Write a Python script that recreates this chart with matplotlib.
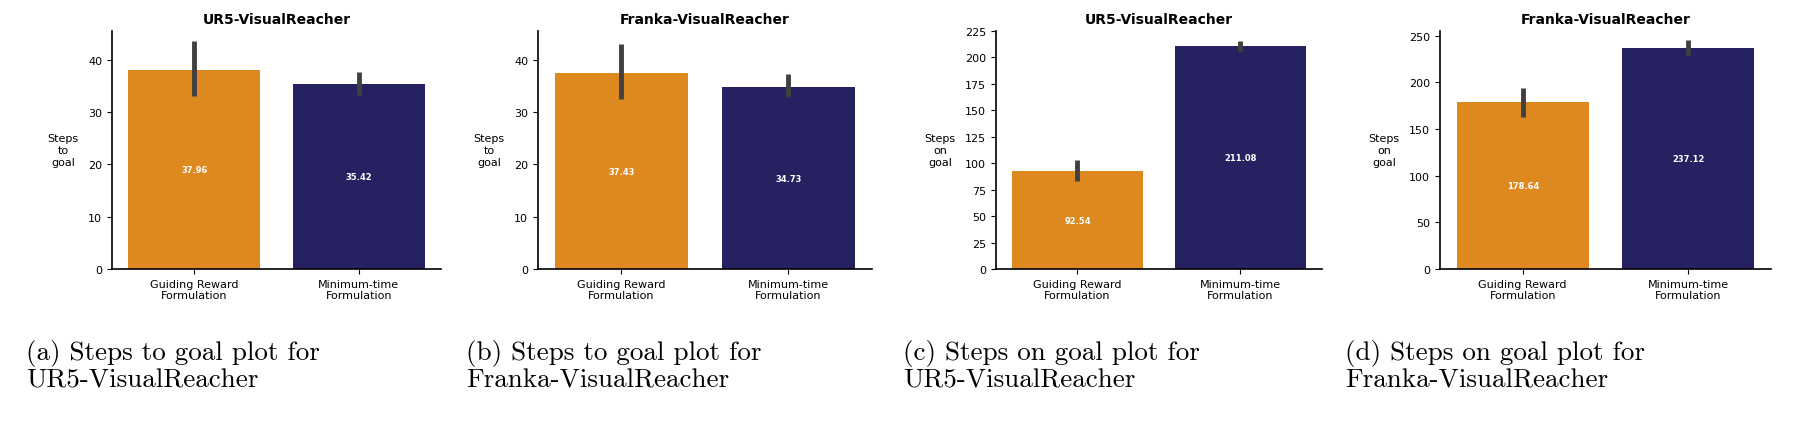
import matplotlib
matplotlib.use("Agg")
import matplotlib.pyplot as plt

categories = ["Guiding Reward\nFormulation", "Minimum-time\nFormulation"]
titles = ["UR5-VisualReacher", "Franka-VisualReacher", "UR5-VisualReacher", "Franka-VisualReacher"]
ylabels = ["Steps\nto\ngoal", "Steps\nto\ngoal", "Steps\non\ngoal", "Steps\non\ngoal"]
means_a = [37.96, 35.42]
means_b = [37.43, 34.73]
means_c = [92.54, 211.08]
means_d = [178.64, 237.12]
err_lo_a = [33.0, 33.3]; err_hi_a = [43.5, 37.7]
err_lo_b = [32.5, 32.8]; err_hi_b = [43.0, 37.3]
err_lo_c = [83.0, 206.0]; err_hi_c = [103.0, 216.0]
err_lo_d = [163.0, 229.0]; err_hi_d = [194.0, 245.0]
ylims = [45.5, 45.5, 225, 255]
captions = ["(a) Steps to goal plot for\nUR5-VisualReacher",
            "(b) Steps to goal plot for\nFranka-VisualReacher",
            "(c) Steps on goal plot for\nUR5-VisualReacher",
            "(d) Steps on goal plot for\nFranka-VisualReacher"]

means = [means_a, means_b, means_c, means_d]
lows = [err_lo_a, err_lo_b, err_lo_c, err_lo_d]
highs = [err_hi_a, err_hi_b, err_hi_c, err_hi_d]
colors = ["#DE8820", "#262262"]

W, H = 1806, 439
fig = plt.figure(figsize=(W/100, H/100), dpi=100)
lefts = [112, 538, 996, 1440]
rights = [441, 872, 1322, 1771]
cap_x = [26, 466, 903, 1345]
for i in range(4):
    ax = fig.add_axes([lefts[i]/W, 1-270/H, (rights[i]-lefts[i])/W, 238/H])
    x = range(2)
    ax.bar(x, means[i], width=0.8, color=colors)
    for j in x:
        ax.plot([j, j], [lows[i][j], highs[i][j]], color="#404040", lw=3.5, solid_capstyle="butt")
        ax.text(j, means[i][j]/2, f"{means[i][j]:.2f}", color="white", fontsize=6,
                fontweight="bold", ha="center", va="center")
    ax.set_ylim(0, ylims[i])
    ax.set_xlim(-0.5, 1.5)
    ax.set_xticks(list(x))
    ax.set_xticklabels(categories, fontsize=8)
    ax.tick_params(labelsize=8)
    ax.spines["top"].set_visible(False)
    ax.spines["right"].set_visible(False)
    ax.spines["left"].set_linewidth(1.2)
    ax.spines["bottom"].set_linewidth(1.2)
    ax.set_ylabel(ylabels[i], rotation=0, fontsize=8, labelpad=18, va="center", ha="center")
    ax.set_title(titles[i], fontsize=10, fontweight="bold", pad=6)
    fig.text(cap_x[i]/W, 1-340/H, captions[i], family="cmr10", fontsize=19.5,
             va="top", ha="left", linespacing=1.1)

fig.savefig("out.png", dpi=100)
